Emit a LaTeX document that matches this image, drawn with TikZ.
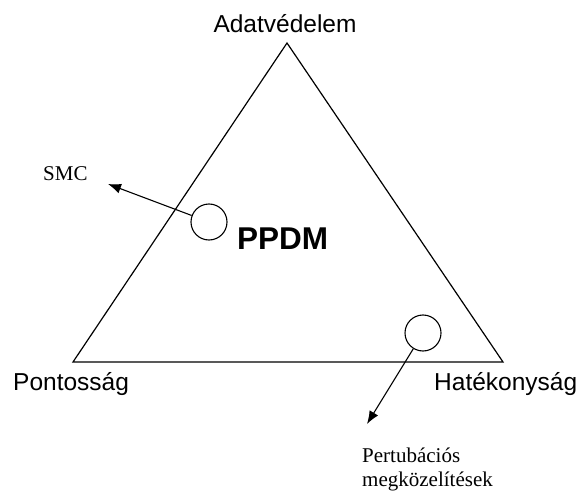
\documentclass[tikz,border=0pt]{standalone}
\usepackage{fontspec}
\setmainfont{Liberation Serif}
\newfontfamily\arialfont{Liberation Sans}
\usetikzlibrary{arrows.meta}
\tikzset{
  edge/.style={line width=1.2pt, line join=miter},
  ring/.style={circle, draw, line width=1.1pt, minimum size=36pt, inner sep=0pt},
  ptr/.style={line width=1.1pt, -{Latex[length=13pt,width=10pt]}},
  sanslabel/.style={font=\arialfont\fontsize{24.5}{28}\selectfont, inner sep=0pt},
  seriflabel/.style={font=\fontsize{21}{24}\selectfont, inner sep=0pt}
}
\begin{document}
\begin{tikzpicture}[x=1pt,y=-1pt]
\useasboundingbox (0,0) rectangle (581,492);
\coordinate (top) at (287,43);
\coordinate (bl) at (73,362);
\coordinate (br) at (503,362);
\draw[edge] (top) -- (br) -- (bl) -- cycle;
\node[sanslabel, anchor=base] (adat) at (285,33) {Adatvédelem};
\node[sanslabel, anchor=base west] (pont) at (13,390) {Pontosság};
\node[sanslabel, anchor=base west] (hat) at (434,390) {Hatékonyság};
\node[inner sep=0pt, anchor=base west, font=\arialfont\bfseries\fontsize{31.5}{35}\selectfont] (ppdm) at (237,249) {PPDM};
\node[ring] (c1) at (209,222) {};
\node[ring] (c2) at (423,333) {};
\node[seriflabel, anchor=base west] (smc) at (43,180) {SMC};
\node[seriflabel, anchor=base west] (pert) at (362,462) {Pertubációs};
\node[seriflabel, anchor=base west] (megk) at (362,486) {megközelítések};
\coordinate (t1) at (108,184);
\coordinate (t2) at (367,424);
\draw[ptr] (c1) -- (t1);
\draw[ptr] (c2) -- (t2);
\end{tikzpicture}
\end{document}
